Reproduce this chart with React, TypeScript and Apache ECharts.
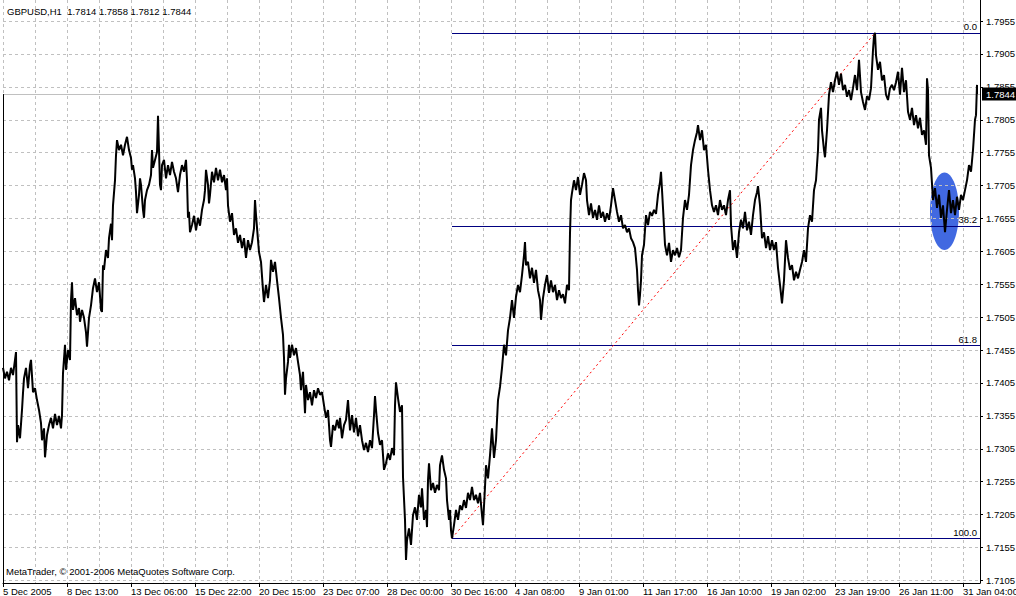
import React, { useEffect, useRef } from 'react';
import * as echarts from 'echarts';

const FONT = '"Liberation Sans", Arial, sans-serif';
const FS = 9.5;

const symbolTitle = 'GBPUSD,H1';
const lastOHLC = [1.7814, 1.7858, 1.7812, 1.7844];
const lastClose = 1.7844;
const copyright = 'MetaTrader, \u00a9 2001-2006 MetaQuotes Software Corp.';

const dateLabels = [
  '5 Dec 2005', '8 Dec 13:00', '13 Dec 06:00', '15 Dec 22:00', '20 Dec 15:00', '23 Dec 07:00',
  '28 Dec 00:00', '30 Dec 16:00', '4 Jan 08:00', '9 Jan 01:00', '11 Jan 17:00', '16 Jan 10:00',
  '19 Jan 02:00', '23 Jan 19:00', '26 Jan 11:00', '31 Jan 04:00',
];
const labelStep = 64; // hourly bars between date labels
const gridStep = 32;
const lastBar = 977;

const priceTicks = [
  1.7105, 1.7155, 1.7205, 1.7255, 1.7305, 1.7355, 1.7405, 1.7455, 1.7505,
  1.7555, 1.7605, 1.7655, 1.7705, 1.7755, 1.7805, 1.7855, 1.7905, 1.7955,
];
const priceMin = 1.7101;
const priceMax = 1.7987;

// [bar index (hours), price]
const bars: [number, number][] = [
  [0,1.7428],[2,1.7412],[4,1.7422],[6,1.7409],[8,1.7428],[10,1.7417],[12,1.7440],[13,1.7452],[14,1.7315],[15,1.7341],[17,1.7321],[19,1.7364],[20,1.7390],[21,1.7412],[23,1.7428],[25,1.7397],[27,1.7432],[28,1.7440],[30,1.7391],[32,1.7397],[34,1.7379],[36,1.7364],[38,1.7344],[39,1.7318],[41,1.7336],[42,1.7292],[44,1.7326],[46,1.7341],[48,1.7352],[50,1.7336],[52,1.7358],[54,1.7341],[56,1.7355],[58,1.7336],[59,1.7356],[60,1.7420],[62,1.7463],[63,1.7425],[65,1.7455],[67,1.7440],[68,1.7531],[69,1.7558],[70,1.7516],[72,1.7534],[74,1.7508],[76,1.7519],[77,1.7498],[79,1.7516],[81,1.7504],[83,1.7482],[84,1.7460],[86,1.7504],[88,1.7523],[90,1.7549],[92,1.7564],[94,1.7543],[96,1.7558],[98,1.7516],[99,1.7513],[100,1.7584],[101,1.7577],[103,1.7607],[105,1.7595],[106,1.7625],[108,1.7647],[109,1.7622],[110,1.7675],[111,1.7694],[112,1.7713],[113,1.7751],[114,1.7774],[116,1.7759],[118,1.7767],[120,1.7751],[122,1.7767],[124,1.7779],[126,1.7759],[128,1.7747],[129,1.7729],[130,1.7736],[132,1.7716],[133,1.7695],[134,1.7663],[136,1.7691],[137,1.7716],[138,1.7706],[140,1.7668],[141,1.7656],[142,1.7683],[144,1.7698],[146,1.7706],[148,1.7721],[149,1.7759],[150,1.7732],[152,1.7744],[154,1.7756],[155,1.7811],[156,1.7759],[157,1.7706],[158,1.7698],[159,1.7736],[161,1.7744],[163,1.7716],[165,1.7736],[167,1.7721],[169,1.7741],[171,1.7726],[173,1.7716],[175,1.7695],[177,1.7721],[179,1.7736],[181,1.7726],[183,1.7744],[184,1.7713],[185,1.7656],[186,1.7665],[187,1.7634],[189,1.7645],[191,1.7659],[193,1.7637],[195,1.7656],[197,1.7644],[199,1.7668],[201,1.7683],[202,1.7698],[203,1.7729],[205,1.7706],[206,1.7678],[207,1.7691],[209,1.7726],[211,1.7710],[213,1.7732],[215,1.7713],[217,1.7729],[219,1.7710],[221,1.7721],[223,1.7698],[224,1.7716],[225,1.7675],[227,1.7650],[229,1.7663],[231,1.7630],[233,1.7640],[235,1.7618],[237,1.7630],[239,1.7610],[241,1.7625],[243,1.7595],[245,1.7622],[247,1.7607],[249,1.7619],[251,1.7640],[252,1.7683],[253,1.7660],[255,1.7622],[256,1.7604],[258,1.7589],[260,1.7546],[261,1.7528],[263,1.7554],[265,1.7534],[267,1.7561],[268,1.7592],[270,1.7574],[272,1.7589],[274,1.7561],[276,1.7534],[278,1.7504],[280,1.7478],[281,1.7443],[282,1.7387],[283,1.7412],[285,1.7437],[286,1.7463],[287,1.7443],[289,1.7463],[291,1.7447],[293,1.7458],[295,1.7437],[297,1.7417],[298,1.7394],[300,1.7422],[302,1.7359],[303,1.7402],[305,1.7379],[307,1.7391],[309,1.7371],[311,1.7394],[313,1.7382],[315,1.7397],[317,1.7387],[319,1.7391],[321,1.7371],[323,1.7352],[325,1.7364],[327,1.7318],[328,1.7308],[330,1.7341],[332,1.7333],[334,1.7349],[336,1.7336],[337,1.7352],[339,1.7321],[341,1.7341],[343,1.7349],[345,1.7379],[347,1.7333],[349,1.7356],[351,1.7330],[353,1.7352],[355,1.7324],[357,1.7341],[359,1.7318],[361,1.7303],[363,1.7314],[365,1.7300],[367,1.7318],[369,1.7306],[371,1.7356],[372,1.7385],[373,1.7364],[375,1.7329],[377,1.7311],[379,1.7318],[381,1.7273],[383,1.7283],[385,1.7298],[387,1.7288],[389,1.7306],[391,1.7295],[392,1.7371],[393,1.7406],[395,1.7382],[397,1.7361],[399,1.7371],[400,1.7262],[402,1.7197],[403,1.7136],[404,1.7166],[406,1.7184],[408,1.7159],[410,1.7204],[412,1.7216],[414,1.7197],[416,1.7235],[418,1.7216],[419,1.7245],[421,1.7197],[423,1.7212],[424,1.7186],[425,1.7257],[426,1.7283],[428,1.7242],[430,1.7253],[432,1.7238],[434,1.7250],[436,1.7242],[437,1.7280],[439,1.7295],[441,1.7273],[443,1.7260],[444,1.7227],[446,1.7197],[447,1.7212],[448,1.7181],[449,1.7169],[451,1.7189],[453,1.7212],[455,1.7197],[457,1.7219],[459,1.7212],[461,1.7227],[463,1.7215],[465,1.7238],[467,1.7227],[469,1.7247],[471,1.7227],[473,1.7235],[475,1.7222],[477,1.7238],[479,1.7204],[480,1.7189],[482,1.7247],[483,1.7280],[485,1.7260],[487,1.7295],[489,1.7336],[491,1.7291],[493,1.7318],[495,1.7379],[497,1.7399],[499,1.7428],[501,1.7463],[503,1.7447],[505,1.7485],[507,1.7504],[509,1.7531],[511,1.7504],[513,1.7536],[515,1.7554],[517,1.7543],[519,1.7569],[521,1.7599],[522,1.7619],[523,1.7584],[525,1.7589],[527,1.7564],[529,1.7580],[531,1.7557],[533,1.7577],[535,1.7546],[537,1.7531],[538,1.7501],[540,1.7534],[542,1.7554],[544,1.7569],[546,1.7542],[548,1.7561],[550,1.7543],[552,1.7554],[554,1.7531],[556,1.7546],[558,1.7534],[560,1.7540],[562,1.7526],[564,1.7554],[566,1.7546],[567,1.7633],[568,1.7683],[569,1.7694],[571,1.7713],[573,1.7698],[575,1.7718],[577,1.7691],[579,1.7706],[581,1.7724],[583,1.7713],[584,1.7683],[586,1.7660],[588,1.7678],[590,1.7656],[592,1.7668],[594,1.7653],[596,1.7675],[598,1.7656],[600,1.7665],[602,1.7650],[604,1.7663],[606,1.7653],[608,1.7675],[610,1.7701],[612,1.7683],[614,1.7665],[616,1.7650],[618,1.7660],[620,1.7640],[622,1.7645],[624,1.7634],[626,1.7640],[628,1.7625],[630,1.7619],[632,1.7610],[634,1.7577],[635,1.7546],[636,1.7523],[637,1.7539],[638,1.7561],[639,1.7599],[641,1.7615],[643,1.7660],[645,1.7645],[647,1.7665],[649,1.7659],[651,1.7668],[653,1.7662],[655,1.7691],[657,1.7710],[658,1.7726],[660,1.7671],[662,1.7615],[664,1.7599],[666,1.7618],[668,1.7589],[670,1.7607],[672,1.7599],[674,1.7610],[676,1.7596],[678,1.7607],[680,1.7656],[682,1.7683],[684,1.7668],[686,1.7691],[688,1.7736],[690,1.7759],[692,1.7774],[694,1.7786],[695,1.7797],[697,1.7774],[699,1.7789],[701,1.7759],[703,1.7767],[705,1.7729],[707,1.7698],[709,1.7675],[711,1.7665],[713,1.7675],[715,1.7660],[717,1.7683],[719,1.7668],[721,1.7675],[723,1.7660],[725,1.7683],[727,1.7698],[728,1.7645],[730,1.7607],[732,1.7622],[734,1.7595],[736,1.7634],[738,1.7653],[740,1.7640],[742,1.7665],[744,1.7637],[746,1.7650],[748,1.7630],[750,1.7660],[752,1.7683],[754,1.7695],[755,1.7704],[757,1.7675],[759,1.7625],[761,1.7634],[763,1.7610],[765,1.7628],[767,1.7607],[769,1.7622],[771,1.7607],[773,1.7619],[775,1.7580],[777,1.7554],[779,1.7526],[781,1.7561],[783,1.7622],[785,1.7595],[787,1.7577],[789,1.7584],[791,1.7561],[793,1.7574],[795,1.7564],[797,1.7577],[799,1.7589],[801,1.7607],[803,1.7589],[805,1.7640],[807,1.7660],[809,1.7650],[811,1.7698],[813,1.7713],[815,1.7759],[816,1.7805],[818,1.7823],[819,1.7789],[821,1.7759],[822,1.7748],[824,1.7789],[826,1.7843],[828,1.7862],[830,1.7847],[832,1.7865],[834,1.7878],[836,1.7858],[838,1.7875],[840,1.7850],[842,1.7858],[844,1.7840],[846,1.7850],[848,1.7835],[850,1.7853],[852,1.7873],[854,1.7850],[856,1.7896],[858,1.7847],[860,1.7832],[862,1.7820],[864,1.7841],[866,1.7835],[868,1.7853],[870,1.7911],[871,1.7932],[872,1.7937],[873,1.7903],[875,1.7881],[877,1.7893],[879,1.7865],[881,1.7873],[883,1.7843],[885,1.7835],[887,1.7853],[889,1.7858],[891,1.7850],[893,1.7862],[895,1.7878],[897,1.7843],[899,1.7884],[901,1.7847],[903,1.7865],[905,1.7817],[907,1.7805],[909,1.7823],[911,1.7797],[913,1.7812],[915,1.7792],[917,1.7808],[919,1.7782],[921,1.7789],[923,1.7767],[924,1.7868],[925,1.7850],[926,1.7751],[928,1.7732],[930,1.7683],[932,1.7701],[934,1.7671],[936,1.7691],[938,1.7656],[940,1.7675],[942,1.7634],[944,1.7668],[946,1.7698],[948,1.7663],[950,1.7683],[952,1.7660],[954,1.7688],[956,1.7668],[958,1.7691],[960,1.7683],[962,1.7698],[964,1.7713],[966,1.7736],[968,1.7726],[970,1.7759],[972,1.7805],[973,1.7812],[974,1.7858],[974,1.7844],
];

// Fibonacci retracement object
const fibHigh = 1.7937;
const fibLow = 1.7169;
const fibStartBar = 449;
const fibHighBar = 872;
const fibLevels = [0, 38.2, 61.8, 100];

// Highlight ellipse
const ellipseCenter: [number, number] = [941.5, 1.7666];
const ellipseRadius: [number, number] = [14.5, 0.0059];

const GRID_COLOR = '#c0c0c0';
const NAVY = '#000080';

export default function App() {
  const ref = useRef<HTMLDivElement>(null);

  useEffect(() => {
    if (!ref.current) return;
    const chart = echarts.init(ref.current, null, { renderer: 'svg' });

    const fibLines = fibLevels.map((lvl) => {
      const price = fibHigh - (lvl / 100) * (fibHigh - fibLow);
      const style = { color: NAVY, width: 1, type: 'solid' };
      const label = {
        show: true,
        position: 'insideEndTop',
        formatter: lvl.toFixed(1),
        color: '#000',
        fontSize: FS,
        fontFamily: FONT,
        distance: [3, 1],
      };
      return [
        { coord: [fibStartBar, price], lineStyle: style, label },
        { coord: [lastBar, price], lineStyle: style, label },
      ];
    });

    const trendStyle = { color: '#ff0000', width: 1, type: [2, 3] };
    const trendLine = [
      { coord: [fibStartBar, fibLow], lineStyle: trendStyle, label: { show: false } },
      { coord: [fibHighBar, fibHigh], lineStyle: trendStyle, label: { show: false } },
    ];

    const bidStyle = { color: GRID_COLOR, width: 1, type: 'solid' };
    const bidLabel = {
      show: true,
      position: 'end',
      formatter: lastClose.toFixed(4),
      color: '#fff',
      backgroundColor: '#000',
      padding: [2, 3, 1, 4],
      distance: 2,
      fontSize: FS,
      fontFamily: FONT,
    };
    const bidLine = [
      { coord: [0, lastClose], lineStyle: bidStyle, label: bidLabel },
      { coord: [lastBar, lastClose], lineStyle: bidStyle, label: bidLabel },
    ];

    const option: any = {
      animation: false,
      backgroundColor: '#ffffff',
      textStyle: { fontFamily: FONT },
      grid: {
        left: 3,
        top: 0,
        width: lastBar,
        height: 583,
        containLabel: false,
        outerBoundsMode: 'none',
      },
      xAxis: [
        {
          type: 'value',
          min: 0,
          max: lastBar,
          interval: labelStep,
          axisLine: { show: true, onZero: false, lineStyle: { color: '#000', width: 1 } },
          axisTick: { show: true, length: 4, lineStyle: { color: '#000', width: 1 } },
          axisLabel: {
            show: true,
            showMaxLabel: false,
            hideOverlap: false,
            align: 'left',
            margin: 3,
            color: '#000',
            fontSize: FS,
            fontFamily: FONT,
            formatter: (v: number) => {
              const k = v / labelStep;
              return Number.isInteger(k) && dateLabels[k] ? dateLabels[k] : '';
            },
          },
          splitLine: { show: false },
        },
        {
          type: 'value',
          min: 0,
          max: lastBar,
          interval: gridStep,
          position: 'bottom',
          axisLine: { show: false },
          axisTick: { show: false },
          axisLabel: { show: false },
          splitLine: { show: true, lineStyle: { color: GRID_COLOR, width: 1, type: [3, 3] } },
        },
      ],
      yAxis: {
        type: 'value',
        position: 'right',
        min: priceMin,
        max: priceMax,
        axisLine: { show: true, onZero: false, lineStyle: { color: '#000', width: 1 } },
        axisTick: { show: true, length: 3, customValues: priceTicks, lineStyle: { color: '#000' } },
        axisLabel: {
          show: true,
          customValues: priceTicks,
          margin: 6,
          color: '#000',
          fontSize: FS,
          fontFamily: FONT,
          formatter: (v: number) => v.toFixed(4),
        },
        splitLine: { show: true, lineStyle: { color: GRID_COLOR, width: 1, type: [3, 3] } },
      },
      series: [
        {
          type: 'line',
          xAxisIndex: 0,
          yAxisIndex: 0,
          data: bars,
          showSymbol: false,
          symbol: 'none',
          silent: true,
          z: 5,
          lineStyle: { color: '#000', width: 2 },
          markLine: {
            silent: true,
            symbol: ['none', 'none'],
            animation: false,
            data: [bidLine, ...fibLines, trendLine],
          },
        },
      ],
    };

    chart.setOption(option);

    const finder = { xAxisIndex: 0, yAxisIndex: 0 };
    const c = chart.convertToPixel(finder as any, ellipseCenter) as number[];
    const r = chart.convertToPixel(finder as any, [
      ellipseCenter[0] + ellipseRadius[0],
      ellipseCenter[1] + ellipseRadius[1],
    ]) as number[];
    const leftTop = chart.convertToPixel(finder as any, [0, lastClose]) as number[];
    const leftBottom = chart.convertToPixel(finder as any, [0, priceMin]) as number[];

    chart.setOption({
      graphic: [
        {
          type: 'ellipse',
          z: -1,
          silent: true,
          shape: { cx: c[0], cy: c[1], rx: Math.abs(r[0] - c[0]), ry: Math.abs(c[1] - r[1]) },
          style: { fill: '#4169e1' },
        },
        {
          type: 'line',
          z: 10,
          silent: true,
          shape: { x1: leftTop[0] + 0.5, y1: leftTop[1], x2: leftBottom[0] + 0.5, y2: leftBottom[1] },
          style: { stroke: '#000', lineWidth: 1 },
        },
        {
          type: 'text',
          z: 10,
          left: 7,
          top: 6,
          silent: true,
          style: {
            text: symbolTitle + '  ' + lastOHLC.map((v) => v.toFixed(4)).join(' '),
            fill: '#000',
            fontSize: FS,
            fontFamily: FONT,
          },
        },
        {
          type: 'text',
          z: 10,
          left: 6,
          top: 566,
          silent: true,
          style: { text: copyright, fill: '#000', fontSize: FS, fontFamily: FONT },
        },
      ],
    });

    return () => chart.dispose();
  }, []);

  return (
    <div
      ref={ref}
      style={{ position: 'absolute', left: 0, top: 0, width: 1016, height: 596, background: '#fff' }}
    />
  );
}
